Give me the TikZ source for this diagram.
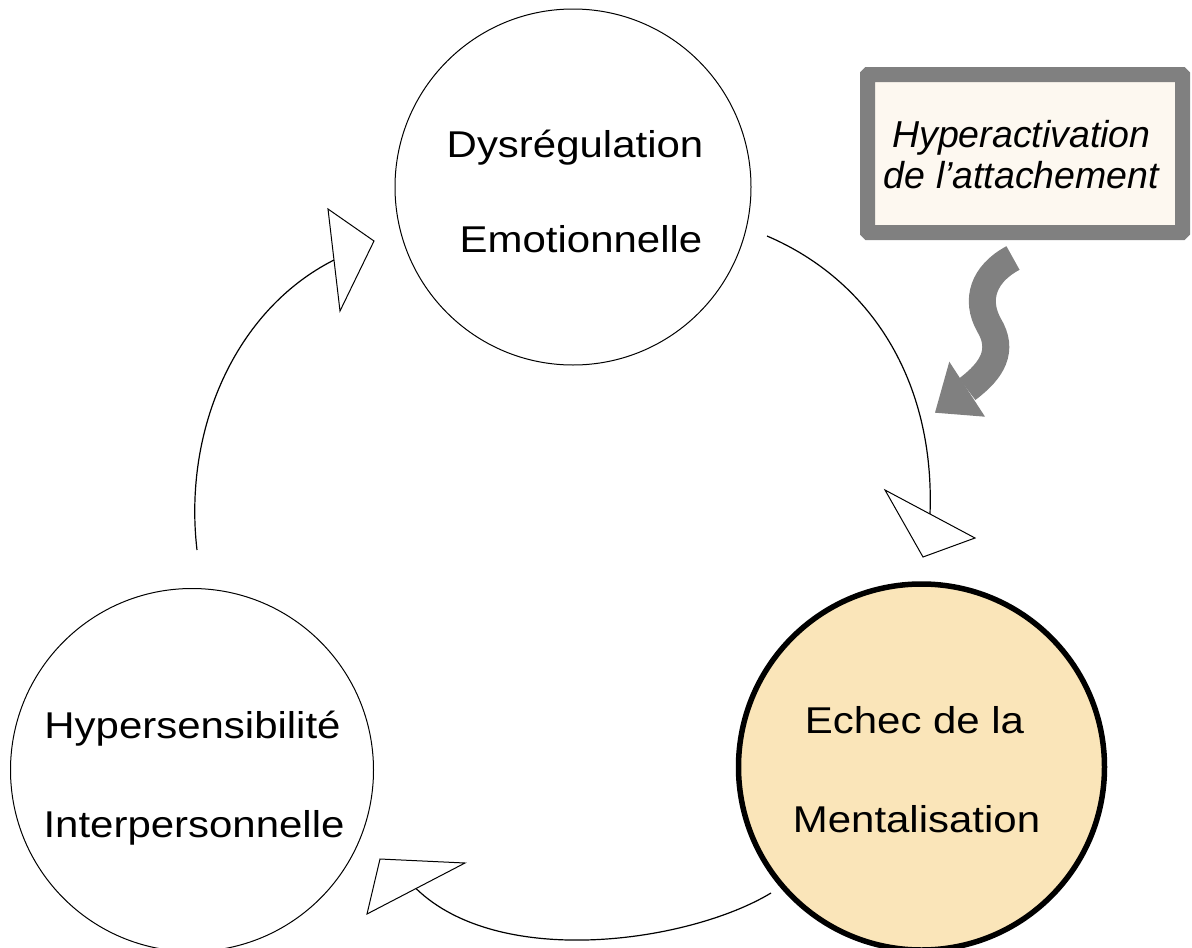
\documentclass[tikz,border=0pt]{standalone}
\usepackage{fontspec}
\setmainfont{Liberation Sans}
\usepackage{graphicx}
\definecolor{boxgray}{RGB}{128,128,128}
\definecolor{cream}{RGB}{253,248,240}
\definecolor{peach}{RGB}{250,229,185}
% labels in the circles are set slightly wide
\newcommand\widetext[1]{\scalebox{1.125}[1]{#1}}

\begin{document}
\begin{tikzpicture}[x=1pt,y=-1pt,
  stage/.style={circle, draw=black, line width=1pt, inner sep=0pt},
  lbl/.style={anchor=base, inner sep=0pt, font=\fontsize{37.3}{44}\selectfont},
  cycleline/.style={draw=black, line width=1.2pt},
  openhead/.style={draw=black, fill=white, line width=1pt, line join=miter},
  curlarrow/.style={draw=boxgray, line width=27pt},
]
\useasboundingbox (0,0) rectangle (1192,948);

% the three stages of the cycle
\node[stage, minimum size=356pt] (emo) at (573,187) {};
\node[stage, minimum size=363pt] (hyp) at (192,770) {};
\node[stage, line width=5.5pt, fill=peach, minimum size=366pt] (ment) at (921.5,767) {};

\node[lbl] (emo1) at (575,157) {\widetext{Dysrégulation}};
\node[lbl] (emo2) at (581,252) {\widetext{Emotionnelle}};
\node[lbl] (hyp1) at (192.5,738) {\widetext{Hypersensibilité}};
\node[lbl] (hyp2) at (194,837) {\widetext{Interpersonnelle}};
\node[lbl] (ment1) at (914.5,733) {\widetext{Echec de la}};
\node[lbl] (ment2) at (916.5,832) {\widetext{Mentalisation}};

% trigger box
\node[draw=boxgray, line width=15pt, fill=cream, rounded corners=1pt,
      minimum width=315pt, minimum height=158pt, inner sep=0pt] (att) at (1025,153.5) {};
\node[align=center, inner sep=0pt,
      font=\itshape\fontsize{37.5}{41}\selectfont] (atttxt) at (1021.5,155)
      {Hyperactivation\\de l’attachement};

% curly arrow from the box into the cycle
\coordinate (wtail) at (1013,258);
\coordinate (wbend) at (989,325);
\coordinate (wneck) at (967.2,389.2);
\coordinate (wtip) at (935,412.7);
\coordinate (wbarbL) at (949.3,361.7);
\coordinate (wbarbR) at (985,416.7);
\draw[curlarrow] (wtail) .. controls (983,274) and (975,300) .. (wbend)
                 .. controls (1004,350) and (993,370) .. (wneck);
\fill[boxgray] (wbarbL) -- (wtip) -- (wbarbR) -- cycle;

% emotional dysregulation -> failure of mentalisation
\coordinate (c1s) at (767,236);
\coordinate (c1e) at (930,514);
\coordinate (h1a) at (885,490);
\coordinate (h1t) at (923,557);
\coordinate (h1b) at (975,538);
\draw[cycleline] (c1s) .. controls (870,280) and (935,380) .. (c1e);
\draw[openhead] (h1a) -- (h1t) -- (h1b) -- cycle;

% failure of mentalisation -> interpersonal hypersensitivity
\coordinate (c2s) at (771,893);
\coordinate (c2e) at (416,888.5);
\coordinate (h2a) at (465,863);
\coordinate (h2t) at (380,859);
\coordinate (h2b) at (367,914);
\draw[cycleline] (c2s) .. controls (690,942) and (500,970) .. (c2e);
\draw[openhead] (h2a) -- (h2t) -- (h2b) -- cycle;

% interpersonal hypersensitivity -> emotional dysregulation
\coordinate (c3s) at (197,550);
\coordinate (c3e) at (334,260);
\coordinate (h3a) at (328,209);
\coordinate (h3t) at (374,241);
\coordinate (h3b) at (340,311);
\draw[cycleline] (c3s) .. controls (183,430) and (235,310) .. (c3e);
\draw[openhead] (h3a) -- (h3t) -- (h3b) -- cycle;
\end{tikzpicture}
\end{document}
